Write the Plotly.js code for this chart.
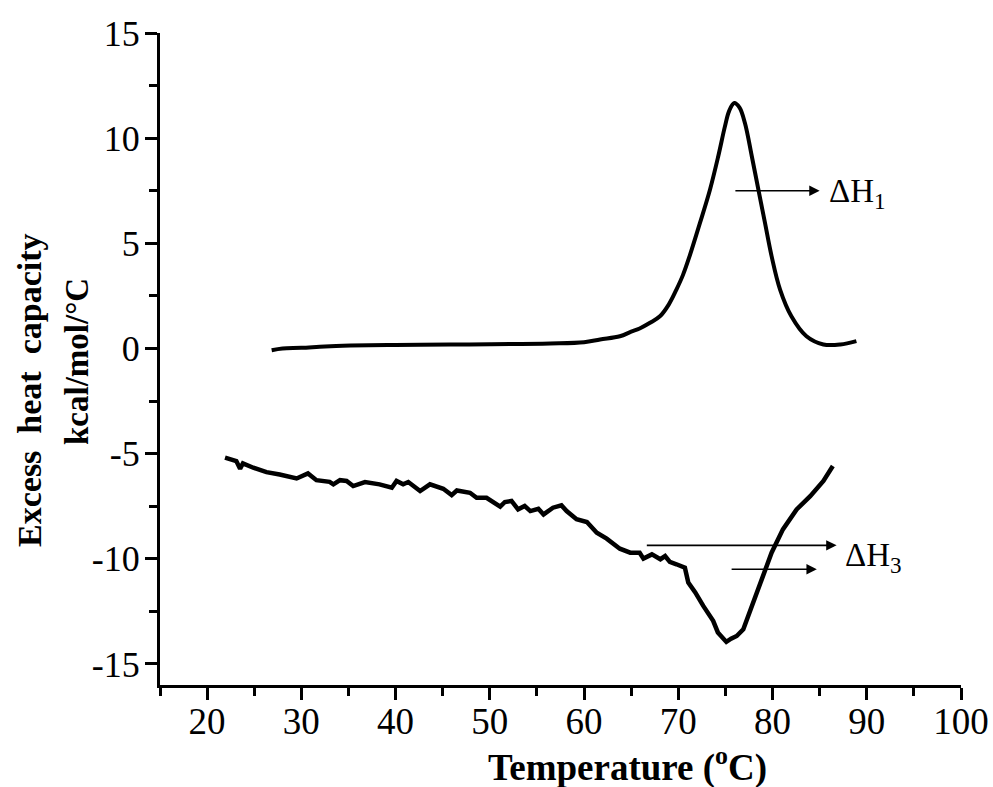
<!DOCTYPE html>
<html>
<head>
<meta charset="utf-8">
<script src="https://cdn.plot.ly/plotly-3.0.1.min.js"></script>
<style>html,body{margin:0;padding:0;background:#fff;}#chart{width:993px;height:787px;}</style>
</head>
<body>
<div id="chart"></div>
<script>
// Upper trace (ΔH1 transition)
const tempUpper = [26.85, 28, 30, 32.5, 35.2, 40, 45.8, 50, 56.4, 60, 61.7, 63.8, 65.0, 65.9, 67.0, 68.05, 69.0, 69.8, 70.5, 71.2, 72.3, 73.36, 74.24, 74.95, 75.4, 75.94, 76.5, 77.07, 77.8, 78.5, 79.2, 79.9, 80.8, 82.0, 83.6, 85.4, 87.2, 88.9];
const cpUpper = [-0.08, 0.0, 0.03, 0.1, 0.14, 0.17, 0.19, 0.2, 0.24, 0.3, 0.43, 0.58, 0.8, 0.95, 1.22, 1.53, 2.1, 2.8, 3.5, 4.39, 5.97, 7.55, 9.14, 10.56, 11.3, 11.67, 11.45, 10.72, 9.14, 7.55, 5.97, 4.39, 2.8, 1.53, 0.58, 0.19, 0.19, 0.35];

// Lower trace (ΔH3 transition)
const tempLower = [21.9, 23.1, 23.5, 23.8, 24.9, 26.3, 27.7, 29.5, 30.7, 31.6, 33.0, 33.4, 34.1, 34.8, 35.5, 36.75, 38.3, 39.6, 40.1, 40.8, 41.35, 42.6, 43.65, 45.06, 45.95, 46.5, 47.9, 48.6, 49.65, 50.4, 51.1, 51.6, 52.3, 53.0, 53.7, 54.3, 55.15, 55.7, 56.7, 57.6, 58.15, 59.2, 60.3, 61.35, 62.4, 63.8, 64.9, 65.9, 66.3, 67.2, 68.1, 68.6, 69.1, 69.8, 70.7, 71.06, 71.8, 72.65, 73.7, 74.2, 75.1, 75.6, 76.2, 76.9, 77.95, 79.0, 79.9, 81.1, 82.56, 84.0, 85.4, 86.4];
const cpLower = [-5.19, -5.35, -5.72, -5.46, -5.67, -5.88, -5.99, -6.18, -5.94, -6.26, -6.34, -6.46, -6.26, -6.3, -6.54, -6.35, -6.46, -6.62, -6.3, -6.46, -6.35, -6.78, -6.46, -6.67, -6.97, -6.75, -6.86, -7.1, -7.1, -7.3, -7.52, -7.3, -7.25, -7.65, -7.49, -7.73, -7.62, -7.89, -7.57, -7.46, -7.73, -8.12, -8.25, -8.76, -9.04, -9.52, -9.71, -9.71, -9.99, -9.79, -10.02, -9.87, -10.15, -10.26, -10.42, -11.13, -11.6, -12.24, -12.95, -13.5, -13.95, -13.8, -13.67, -13.35, -12.08, -10.66, -9.71, -8.6, -7.65, -7.02, -6.3, -5.59];

// Arrows: [tailX, tipX, y]
const arrowH1 = [75.9, 85.0, 7.5];
const arrowH3a = [66.5, 86.8, -9.36];
const arrowH3b = [75.5, 84.7, -10.5];
const labelH1 = ['ΔH<sub>1</sub>', 85.8, 7.35];
const labelH3 = ['ΔH<sub>3</sub>', 87.5, -9.95];

const xTicks = [20, 30, 40, 50, 60, 70, 80, 90, 100];
const yTicks = [-15, -10, -5, 0, 5, 10, 15];

const serif = "'Liberation Serif', 'Times New Roman', Times, serif";

const traces = [
  {x: tempUpper, y: cpUpper, type: 'scatter', mode: 'lines',
   line: {color: '#000', width: 4, shape: 'spline', smoothing: 1}, hoverinfo: 'skip'},
  {x: tempLower, y: cpLower, type: 'scatter', mode: 'lines',
   line: {color: '#000', width: 4.5}, hoverinfo: 'skip'}
];

function arrow(a) {
  return {x: a[1], y: a[2], ax: a[0], ay: a[2], xref: 'x', yref: 'y', axref: 'x', ayref: 'y',
    text: '', showarrow: true, arrowhead: 2, arrowsize: 1.3, arrowwidth: 1.6, arrowcolor: '#000', standoff: 0};
}
function label(l) {
  return {x: l[1], y: l[2], xref: 'x', yref: 'y', text: l[0], showarrow: false,
    xanchor: 'left', yanchor: 'middle', font: {family: serif, size: 33, color: '#000'}};
}

const layout = {
  width: 993, height: 787,
  margin: {l: 160, r: 32, t: 33, b: 102},
  paper_bgcolor: '#fff', plot_bgcolor: '#fff',
  showlegend: false,
  font: {family: serif, color: '#000'},
  xaxis: {
    range: [15, 100], tickvals: xTicks, ticktext: xTicks.map(String),
    showgrid: false, zeroline: false, showline: true, linecolor: '#000', linewidth: 3,
    ticks: 'outside', ticklen: 12, tickwidth: 3, tickcolor: '#000',
    minor: {ticks: 'outside', ticklen: 8, tickwidth: 3, tickcolor: '#000', dtick: 5, tick0: 15, showgrid: false},
    tickfont: {family: serif, size: 37, color: '#000'},
    ticklabelstandoff: -10
  },
  yaxis: {
    range: [-16, 15], tickvals: yTicks, ticktext: yTicks.map(String),
    showgrid: false, zeroline: false, showline: true, linecolor: '#000', linewidth: 3,
    ticks: 'outside', ticklen: 12, tickwidth: 3, tickcolor: '#000',
    minor: {ticks: 'outside', ticklen: 8, tickwidth: 3, tickcolor: '#000', dtick: 2.5, tick0: 0, showgrid: false},
    tickfont: {family: serif, size: 36, color: '#000'},
    ticklabelstandoff: -2
  },
  annotations: [
    arrow(arrowH1), arrow(arrowH3a), arrow(arrowH3b),
    label(labelH1), label(labelH3),
    {text: '<b>Temperature (<sup>o</sup>C)</b>', xref: 'paper', yref: 'paper', x: 0.584, y: -0.123,
     xanchor: 'center', yanchor: 'middle', showarrow: false, font: {family: serif, size: 37, color: '#000'}},
    {text: '<b>Excess  heat  capacity</b>', xref: 'paper', yref: 'paper', x: -0.1623, y: 0.4525,
     xanchor: 'center', yanchor: 'middle', textangle: -90, showarrow: false, font: {family: serif, size: 34, color: '#000'}},
    {text: '<b>kcal/mol/°C</b>', xref: 'paper', yref: 'paper', x: -0.1036, y: 0.4954,
     xanchor: 'center', yanchor: 'middle', textangle: -90, showarrow: false, font: {family: serif, size: 33, color: '#000'}}
  ]
};

Plotly.newPlot('chart', traces, layout, {staticPlot: true, displayModeBar: false});
</script>
</body>
</html>
